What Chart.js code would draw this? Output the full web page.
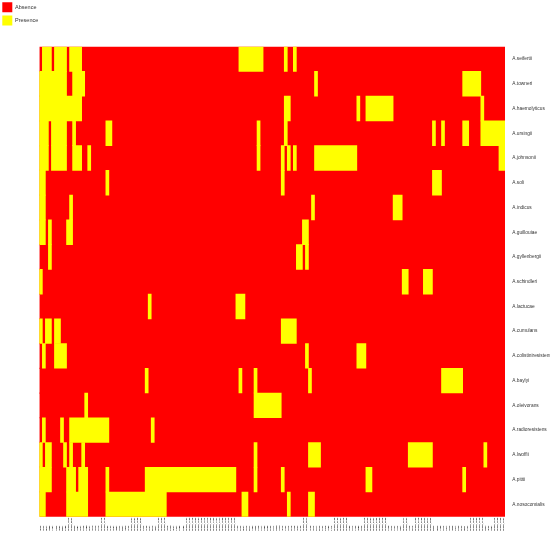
<!DOCTYPE html>
<html>
<head>
<meta charset="utf-8">
<style>html,body{margin:0;padding:0;background:#fff}canvas{display:block}</style>
<script src="https://cdn.jsdelivr.net/npm/chart.js@4"></script>
</head>
<body>
<canvas id="c" width="550" height="533"></canvas>
<script>
const species = ["A.seifertii","A.towneri","A.haemolyticus","A.ursingii","A.johnsonii","A.soli","A.indicus","A.guillouiae","A.gyllenbergii","A.schindleri","A.lactucae","A.cumulans","A.colistiniresistens","A.baylyi","A.oleivorans","A.radioresistens","A.lwoffii","A.pittii","A.nosocomialis"];

const geneLabels = [
"hcaE","pcaK","dcaA","sdhB","ligA","rutC","nagK","mdtL","tauB",
"group_1842","group_9034",
"mhpR","ybdL","pobA","catB","fadH","gbpA","nifU","soxR","iclR",
"group_2210","group_4178",
"acnD","prpF","benA","hmgA","paaK","mmsA","ydcR","araC",
"group_1027","group_3381","group_7560","group_2094",
"czcD","arsB","copA","merR","nemA",
"group_1563","group_4882","group_2770",
"vgrG","tssM","hcpA","fimA","csuB","csuE",
"group_1101","group_1102","group_1148","group_1203","group_1267","group_1290","group_1315","group_1342","group_1388","group_1406","group_1451","group_1477","group_1509","group_1522","group_1576","group_1608","group_1633",
"lysR","gltS","dppA","oprD","mexT","yjgF","ampC","rstB","bfrA","fhuE","tonB","exbD","pilT","comM","recN","uvrD","ftsK","parC","gyrB","rpoZ","hisF","trpE",
"group_3012","group_3047",
"aroG","serC","glyA","metE","cysK","thrB","leuD","ilvC",
"group_3120","group_3166","group_3201","group_3249","group_3288",
"panB","folP","ribD","nadE","coaE",
"group_3310","group_3352","group_3397","group_3421","group_3465","group_3502","group_3548","group_3590",
"fabG","accC","plsX","lpxC","kdsA",
"group_3611","group_3654",
"wzaB","galE",
"group_3702","group_3749","group_3780","group_3826","group_3871","group_3905",
"mutS","dnaQ","ligB","xerC","ruvA","sbcD","hupB","ihfA","cspE","groS","dnaJ","clpX",
"group_4012","group_4056","group_4093","group_4130","group_4172",
"ompW","ureC","phnA",
"group_4215","group_4260","group_4308","group_4351"
];

// Columns (gene index, left to right) marked Presence in each row
const seifertii = [1,2,3,5,6,7,8,10,11,12,13,66,67,68,69,70,71,72,73,81,84];
const towneri = [0,1,2,3,4,5,6,7,8,11,12,13,14,91,140,141,142,143,144,145];
const haemolyticus = [0,1,2,3,4,5,6,7,8,9,10,11,12,13,81,82,105,108,109,110,111,112,113,114,115,116,146];
const ursingii = [0,1,2,4,5,6,7,8,11,22,23,72,81,130,133,140,141,146,147,148,149,150,151,152,153];
const johnsonii = [0,1,2,4,5,6,7,8,11,12,13,16,72,80,82,84,91,92,93,94,95,96,97,98,99,100,101,102,103,104,152,153];
const soli = [0,1,22,80,130,131,132];
const indicus = [0,1,10,90,117,118,119];
const guillouiae = [0,1,3,9,10,87,88];
const gyllenbergii = [3,85,86,88];
const schindleri = [0,120,121,127,128,129];
const lactucae = [36,65,66,67];
const cumulans = [0,2,3,5,6,80,81,82,83,84];
const colistiniresistens = [1,5,6,7,8,88,105,106,107];
const baylyi = [35,66,71,89,133,134,135,136,137,138,139];
const oleivorans = [15,71,72,73,74,75,76,77,78,79];
const radioresistens = [1,7,10,11,12,13,14,15,16,17,18,19,20,21,22,37];
const lwoffii = [0,2,3,8,10,14,71,89,90,91,92,122,123,124,125,126,127,128,129,147];
const pittii = [0,1,2,3,9,10,11,13,14,15,22,35,36,37,38,39,40,41,42,43,44,45,46,47,48,49,50,51,52,53,54,55,56,57,58,59,60,61,62,63,64,71,80,108,109,140];
const nosocomialis = [0,1,9,10,11,12,13,14,15,22,23,24,25,26,27,28,29,30,31,32,33,34,35,36,37,38,39,40,41,67,68,82,89,90];

const presence = [seifertii,towneri,haemolyticus,ursingii,johnsonii,soli,indicus,guillouiae,gyllenbergii,schindleri,lactucae,cumulans,colistiniresistens,baylyi,oleivorans,radioresistens,lwoffii,pittii,nosocomialis];

const RED = "#ff0000", YELLOW = "#ffff00";
const nCols = geneLabels.length;

// Merge adjacent present cells in a row into one floating bar
const runsByRow = presence.map(cols => {
  const runs = [];
  cols.forEach(c => {
    const last = runs[runs.length - 1];
    if (last && last[1] === c) last[1] = c + 1;
    else runs.push([c, c + 1]);
  });
  return runs;
});
const maxRuns = Math.max(...runsByRow.map(r => r.length));

const datasets = [{
  label: "Absence",
  data: species.map(() => [0, nCols]),
  backgroundColor: RED,
  borderWidth: 0,
  grouped: false,
  barPercentage: 1.05,
  categoryPercentage: 1,
  order: 2
}];
for (let k = 0; k < maxRuns; k++) {
  datasets.push({
    label: k === 0 ? "Presence" : undefined,
    data: runsByRow.map(r => r[k] || null),
    backgroundColor: YELLOW,
    borderWidth: 0,
    grouped: false,
    barPercentage: 1,
    categoryPercentage: 1,
    order: 1
  });
}

new Chart(document.getElementById("c"), {
  type: "bar",
  data: { labels: species, datasets },
  options: {
    indexAxis: "y",
    responsive: false,
    animation: false,
    events: [],
    layout: { padding: { top: -1, left: -1, right: 0, bottom: 0 } },
    plugins: {
      tooltip: { enabled: false },
      title: { display: true, text: "", font: { size: 1 }, padding: { top: 0, bottom: 46.5 } },
      legend: {
        display: true,
        position: "left",
        align: "start",
        maxWidth: 40.33,
        labels: {
          boxWidth: 10,
          boxHeight: 10,
          padding: 3.3,
          color: "#333",
          font: { family: "Liberation Sans", size: 5.5 },
          filter: item => !!item.text,
          sort: (a, b) => a.datasetIndex - b.datasetIndex
        }
      }
    },
    scales: {
      x: { type: "linear", min: 0, max: nCols, display: false, grid: { display: false } },
      x2: {
        type: "category",
        axis: "x",
        position: "bottom",
        labels: geneLabels.map(g => g.padEnd(10, " ")),
        offset: true,
        grid: { display: false, drawTicks: false },
        border: { display: false },
        afterFit: s => { s.height = 16.3; },
        ticks: {
          autoSkip: false,
          minRotation: 90,
          maxRotation: 90,
          padding: 1,
          color: "#222",
          font: { family: "Liberation Mono", size: 2.2, weight: "bold" }
        }
      },
      y: {
        type: "category",
        position: "right",
        offset: true,
        grid: { display: false, drawTicks: false },
        border: { display: false },
        afterFit: s => { s.width = 45; },
        ticks: {
          autoSkip: false,
          padding: 7.3,
          color: "#333",
          font: { family: "Liberation Sans", size: 4.8 }
        }
      }
    }
  }
});
</script>
</body>
</html>
